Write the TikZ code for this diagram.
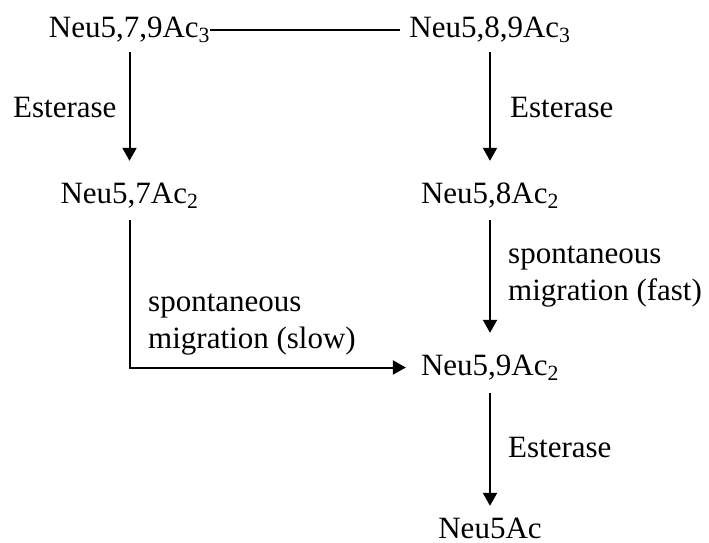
\documentclass[tikz,border=0pt]{standalone}
\usepackage{fontspec}
\setmainfont{Liberation Serif}
\usetikzlibrary{arrows.meta}

\begin{document}
\begin{tikzpicture}[x=1pt,y=-1pt,
        every node/.style={font=\fontsize{31}{37}\selectfont},
        sugar/.style={inner sep=0pt,anchor=base,text height=21pt,text depth=6pt},
        enzyme/.style={inner sep=0pt,anchor=base west,align=left},
        flow/.style={line width=2pt,-{Triangle[width=14pt,length=13pt]}}]
    \useasboundingbox (0,0) rectangle (709,542);

    % Row 0
    \node[sugar] (579) at (129.5,37) {Neu5,7,9Ac\textsubscript{3}};
    \node[sugar] (589) at (490,37) {Neu5,8,9Ac\textsubscript{3}};

    % Row 1
    \node[sugar] (57) at (129.5,203) {Neu5,7Ac\textsubscript{2}};
    \node[sugar] (58) at (490,203) {Neu5,8Ac\textsubscript{2}};

    % Row 2
    \node[sugar] (59) at (490,375) {Neu5,9Ac\textsubscript{2}};

    % Row 3
    \node[sugar,text depth=1pt] (5) at (490,538) {Neu5Ac};

    % Labels (multi-line ones sit on their last line)
    \node[enzyme] (est1) at (13,117) {Esterase};
    \node[enzyme] (est2) at (510,117) {Esterase};
    \node[enzyme] (fast) at (508,300) {spontaneous\\migration (fast)};
    \node[enzyme] (slow) at (148,348) {spontaneous\\migration (slow)};
    \node[enzyme] (est3) at (508,457) {Esterase};

    % Edges
    \draw[line width=2pt,shorten >=9pt] (579) -- (589);
    \draw[flow,shorten <=9pt,shorten >=21pt] (579) -- (57);
    \draw[flow,shorten <=9pt,shorten >=21pt] (589) -- (58);
    \draw[flow,shorten <=11pt,shorten >=21pt] (58) -- (59);
    \draw[flow,shorten <=11pt,shorten >=15pt] (57) |- (59);
    \draw[flow,shorten <=12pt,shorten >=11pt] (59) -- (5);
\end{tikzpicture}
\end{document}
